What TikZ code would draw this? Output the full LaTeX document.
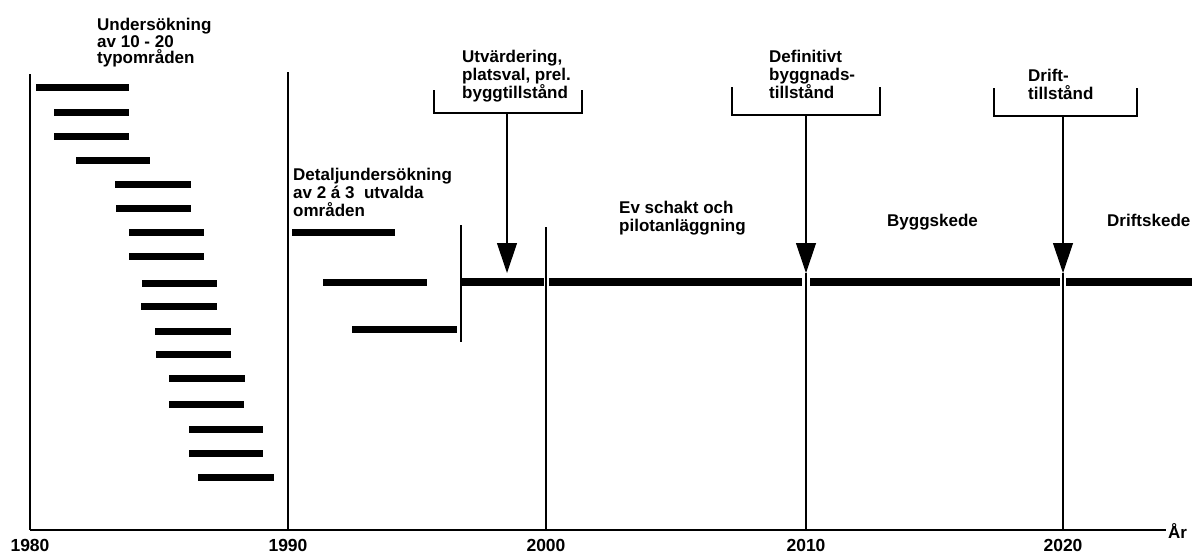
\documentclass[tikz,border=0pt]{standalone}
\usepackage{fontspec}
\setmainfont{Liberation Sans}
\usetikzlibrary{arrows.meta}

\begin{document}
\begin{tikzpicture}[x=1pt,y=-1pt,>={Triangle[width=20pt,length=30pt]},
  phase text/.style={font=\bfseries\fontsize{17}{18}\selectfont,align=left,anchor=north west,inner sep=0pt},
  year text/.style={font=\bfseries\fontsize{17.5}{18}\selectfont,anchor=north,inner sep=0pt},
  bar/.style={line width=7pt},
  main bar/.style={line width=8pt},
  thin line/.style={line width=1.2pt},
  bracket/.style={line width=1.1pt}]

  \useasboundingbox (0,0) rectangle (1192,554);

  % axis and year lines
  \coordinate (y1980) at (30,530);
  \coordinate (y1990) at (288,530);
  \coordinate (y2000) at (546,530);
  \coordinate (y2010) at (806,530);
  \coordinate (y2020) at (1063,530);
  \coordinate (axis end) at (1166,530);
  \draw[line width=2pt] (y1980) -- (axis end);
  \node[anchor=west,inner sep=0pt,font=\bfseries\fontsize{17}{18}\selectfont] (ar) at (1168,531) {År};

  \foreach \yr in {1980,1990,2000,2010,2020}
    \node[year text] (lbl\yr) at ([yshift=-9pt]y\yr) {\yr};

  \draw[thin line] (30,74) -- (y1980);
  \draw[thin line] (288,72) -- (y1990);
  \draw[thin line] (546,227) -- (y2000);
  \draw[thin line] (461,225) -- (461,342);

  % survey of 10-20 areas
  \node[phase text,font=\bfseries\fontsize{17}{16.5}\selectfont] (survey) at (97,18) {Undersökning\\av 10 - 20\\typområden};
  \foreach \a/\b/\y in {36/129/87, 54/129/112, 54/129/136, 76/150/160, 115/191/184,
      116/191/208, 129/204/232, 129/204/256, 142/217/283, 141/217/306, 155/231/331,
      156/231/354, 169/245/378, 169/244/404, 189/263/429, 189/263/453, 198/274/477}
    \draw[bar] (\a,\y) -- (\b,\y);

  % detailed survey
  \node[phase text] (detail) at (293,168) {Detaljundersökning\\av 2 á 3\ \ utvalda\\områden};
  \foreach \a/\b/\y in {292/395/232, 323/427/282, 352/457/329}
    \draw[bar] (\a,\y) -- (\b,\y);

  % main phase bar
  \foreach \a/\b in {461/544, 549/802, 810/1060, 1066/1192}
    \draw[main bar] (\a,282) -- (\b,282);

  \node[phase text] (shaft) at (619,201) {Ev schakt och\\pilotanläggning};
  \node[phase text] (bygg) at (887,214) {Byggskede};
  \node[phase text] (drift) at (1107,214) {Driftskede};

  % permits
  \node[phase text] (eval) at (462,50) {Utvärdering,\\platsval, prel.\\byggtillstånd};
  \draw[bracket] (434,90) -- (434,113) -- (582,113) -- (582,90);
  \coordinate (eval foot) at (507,113);
  \coordinate (eval tip) at (507,273);
  \draw[->,thin line] (eval foot) -- (eval tip);

  \node[phase text] (def) at (769,50) {Definitivt\\byggnads-\\tillstånd};
  \draw[bracket] (732,87) -- (732,115) -- (880,115) -- (880,87);
  \coordinate (def foot) at (806,115);
  \coordinate (def tip) at (806,273);
  \draw[->,thin line] (def foot) -- (def tip);
  \draw[thin line] (def tip) -- (y2010);

  \node[phase text] (oper) at (1028,69) {Drift-\\tillstånd};
  \draw[bracket] (994,88) -- (994,116) -- (1137,116) -- (1137,88);
  \coordinate (oper foot) at (1063,116);
  \coordinate (oper tip) at (1063,273);
  \draw[->,thin line] (oper foot) -- (oper tip);
  \draw[thin line] (oper tip) -- (y2020);

\end{tikzpicture}
\end{document}
